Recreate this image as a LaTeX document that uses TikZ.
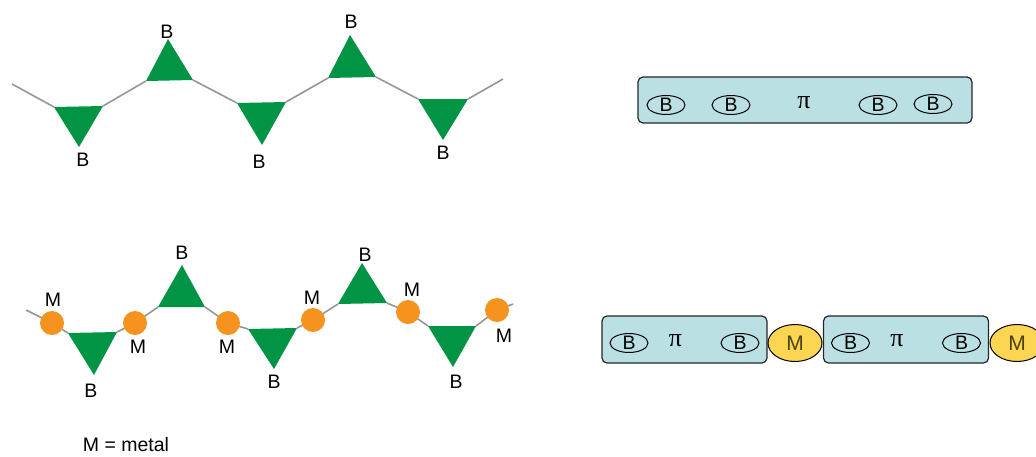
\documentclass[tikz,border=0pt]{standalone}
\usepackage{fontspec}
\setmainfont{Liberation Sans}
\newfontfamily\serifpi{Liberation Serif}
\usetikzlibrary{shapes.geometric}
\definecolor{bgreen}{RGB}{0,148,68}
\definecolor{morange}{RGB}{246,146,30}
\definecolor{boxblue}{RGB}{186,224,228}
\definecolor{myellow}{RGB}{252,214,80}
\definecolor{chaingray}{RGB}{150,150,150}

\begin{document}
\begin{tikzpicture}[x=1pt, y=-1pt, thick, font=\fontsize{19.5}{21}\selectfont,
  link/.style={draw=chaingray, line width=1.6pt},
  tri/.style={fill=bgreen},
  metal/.style={circle, fill=morange, minimum size=24pt, inner sep=0pt},
  ligand/.style={rounded corners=5pt, draw=black!85, fill=boxblue, line width=1.2pt, inner sep=0pt},
  boron/.style={ellipse, draw, line width=1pt, minimum width=38pt, minimum height=17pt, inner sep=0pt},
  metalel/.style={ellipse, draw, fill=myellow, line width=1pt, minimum width=54pt, minimum height=37pt, inner sep=0pt},
  lbl/.style={inner sep=0pt}]
  \useasboundingbox (0,0) rectangle (1036,456);
  \clip (0,0) rectangle (1036,456);
  % upper chain
  \coordinate (s0) at (12,84);
  \coordinate (s6) at (503,79);
  \foreach \n/\ax/\ay/\bx/\by/\cx/\cy/\lx/\ly in {1/54/107/103/106/79/147/83/160, 2/146/81/193/80/168/39/167/32,
      3/237/103/286/102/262/145/259/162, 4/328/78/376/77/350/35/351/22, 5/418/99/468/99/443/140/443/153} {
    \coordinate (t\n a) at (\ax,\ay);
    \coordinate (t\n b) at (\bx,\by);
    \coordinate (t\n c) at (\cx,\cy);
    \node[lbl] (tb\n) at (\lx,\ly) {B};
  }
  \draw[link] (s0) -- (t1a) (t1b) -- (t2a) (t2b) -- (t3a) (t3b) -- (t4a) (t4b) -- (t5a) (t5b) -- (s6);
  \foreach \n in {1,...,5} {
    \fill[tri] (t\n a) -- (t\n b) -- (t\n c) -- cycle;
  }
  % lower chain with metals
  \coordinate (r0) at (26,310);
  \coordinate (r7) at (513,304);
  \foreach \n/\ax/\ay/\bx/\by/\cx/\cy/\lx/\ly in {1/68/333/117/332/94/375/91/391, 2/158/307/205/307/182/265/182/253,
      3/248/329/297/328/274/369/274/382, 4/338/304/387/303/362/263/365/255, 5/428/326/476/326/453/367/456/382} {
    \coordinate (u\n a) at (\ax,\ay);
    \coordinate (u\n b) at (\bx,\by);
    \coordinate (u\n c) at (\cx,\cy);
    \node[lbl] (ub\n) at (\lx,\ly) {B};
  }
  \foreach \n/\x/\y/\lx/\ly in {1/52/323/53/300, 2/135/323/138/347, 3/228/323/227/347,
      4/313/320/312/298, 5/408/312/412/290, 6/497/310/504/336} {
    \coordinate (m\n) at (\x,\y);
    \node[lbl] (ml\n) at (\lx,\ly) {M};
  }
  \draw[link] (r0) -- (m1) -- (u1a) (u1b) -- (m2) -- (u2a) (u2b) -- (m3) -- (u3a)
    (u3b) -- (m4) -- (u4a) (u4b) -- (m5) -- (u5a) (u5b) -- (m6) -- (r7);
  \foreach \n in {1,...,5} {
    \fill[tri] (u\n a) -- (u\n b) -- (u\n c) -- cycle;
  }
  \foreach \n in {1,...,6} {
    \node[metal] (mc\n) at (m\n) {};
  }
  \node[lbl, font=\fontsize{19.5}{21}\selectfont] (legend) at (126,445) {M = metal};
  % ligand, upper right
  \node[ligand, minimum width=334pt, minimum height=46pt] (lig) at (805,100) {};
  \node[boron] (b1) at (666,105) {B};
  \node[boron] (b2) at (731,105) {B};
  \node[lbl, font=\serifpi\fontsize{26}{28}\selectfont] (pi) at (804,103) {π};
  \node[boron] (b3) at (878,105) {B};
  \node[boron] (b4) at (933,104) {B};
  % ligand-metal chain, lower right
  \foreach \n/\x/\mx in {1/684.5/795, 2/906/1017} {
    \node[ligand, minimum width=165pt, minimum height=47pt] (box\n) at (\x,339.5) {};
    \node[boron] (bl\n) at (\x-55.5,343) {B};
    \node[boron] (br\n) at (\x+55.5,343) {B};
    \node[lbl, font=\serifpi\fontsize{26}{28}\selectfont] (pi\n) at (\x-9,341) {π};
    \node[metalel, text=black!70!myellow, font=\fontsize{21}{23}\selectfont] (me\n) at (\mx,343) {M};
  }
\end{tikzpicture}
\end{document}
